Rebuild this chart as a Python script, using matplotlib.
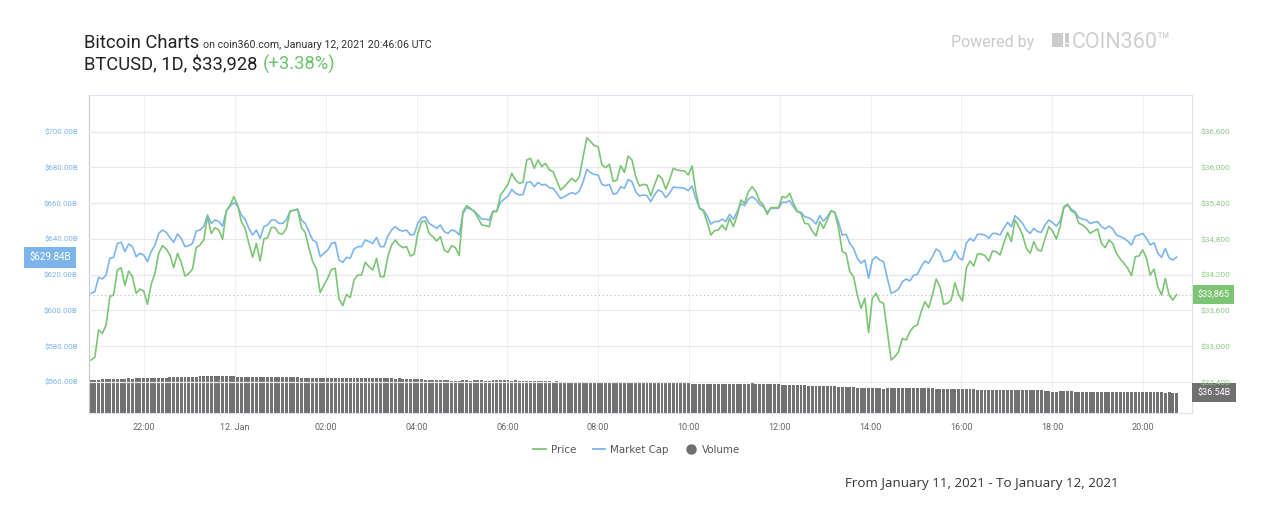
import matplotlib
matplotlib.use("Agg")
import matplotlib.pyplot as plt
import numpy as np
from matplotlib.lines import Line2D
from matplotlib.patches import Rectangle

# hours relative to 12 Jan 2021 00:00 UTC
first_hour = -3.17
last_hour = 20.74

price = [
    32770, 32815, 33273, 33217, 33357, 33833, 33861, 34280, 34319, 34017,
    34263, 34168, 33889, 33961, 33928, 33704, 34040, 34224, 34560, 34688,
    34632, 34532, 34319, 34560, 34409, 34179, 34219, 34297, 34655, 34700,
    34783, 35175, 34895, 34990, 34951, 34795, 35270, 35371, 35511, 35371,
    35091, 34979, 34727, 34493, 34727, 34431, 34800, 34823, 34996, 34990,
    34895, 34884, 34979, 35270, 35281, 35298, 34990, 34912, 34644, 34420,
    34297, 33900, 34028, 34140, 34291, 34308, 33793, 33682, 33872, 33816,
    34112, 34196, 34196, 34409, 34336,
    34280, 34476, 34168, 34168, 34504, 34700, 34783, 34700, 34655, 34672,
    34515, 34543, 34895, 35091, 35102, 34895, 34839, 34767, 34839, 34616,
    34576, 34688, 34655, 34521, 35259, 35359, 35315, 35259, 35158, 35035,
    35024, 35007, 35259, 35259, 35538, 35622, 35717, 35902, 35790, 35734,
    35751, 36126, 36154, 35986, 36126, 36014, 36070, 35958, 35930, 35773,
    35622, 35678, 35751, 35818, 35762, 35846, 36182, 36500, 36433, 36366,
    36349, 36042, 35997, 36053, 35762, 35790, 36031, 35919, 36193, 36126,
    35846, 35689, 35717,
    35706, 35527, 35706, 35874, 35818, 35634, 35790, 35986, 35958, 35947,
    35941, 35874, 36025, 35594, 35315, 35270, 35091, 34867, 34940, 34951,
    35035, 34951, 35147, 35007, 35192, 35455, 35399, 35594, 35678, 35594,
    35438, 35371, 35214, 35326, 35326, 35326, 35511, 35494, 35566, 35399,
    35270, 35231, 35063, 35052, 34934, 34851, 35091, 34979, 35119, 35270,
    35248, 34979, 34588, 34560, 34252, 34168, 33861, 33637, 33805, 33229,
    33805, 33889, 33749, 33721, 33245, 32770, 32826, 32910, 33133, 33106,
    33245,
    33329, 33357, 33581, 33749, 33648, 33861, 34129, 34000, 33704, 33721,
    33777, 34068, 33861, 33760, 34308, 34431, 34347, 34549, 34549, 34521,
    34431, 34599, 34588, 34532, 34727, 34912, 34755, 35119, 35007, 34867,
    34644, 34560, 34755, 34616, 34599, 34811, 35007, 34934, 34800, 35007,
    35343, 35382, 35270, 35231, 35063, 35035, 34979, 34895, 34934, 34968,
    34727, 34655, 34783, 34727, 34560, 34465, 34392, 34308, 34185, 34504,
    34515, 34616, 34476, 34196, 34297, 34000, 33861, 34140, 33861, 33777,
    33865,
]

market_cap = [
    609.6, 610.5, 618.5, 617.6, 619.8, 629.2, 629.7, 637.5, 638.1, 632.9,
    637.2, 635.7, 630.1, 632.0, 631.0, 627.3, 632.9, 636.6, 643.1, 645.0,
    643.7, 640.7, 638.1, 642.8, 640.3, 635.7, 636.2, 637.5, 644.4, 645.0,
    646.9, 653.4, 648.7, 650.6, 649.7, 647.2, 655.6, 658.4, 660.3, 658.4,
    653.4, 651.0, 645.9, 642.2, 645.0, 640.3, 646.9, 647.8, 650.6, 650.6,
    648.7, 648.7, 650.6, 655.6, 656.0, 656.7, 650.6, 648.7, 644.1, 639.4,
    638.1, 630.1, 632.0, 633.8, 637.5, 638.1, 628.2, 626.9, 629.7, 629.2,
    634.4, 635.7, 635.7, 639.4, 638.5,
    637.5, 640.9, 635.7, 635.7, 641.6, 645.0, 646.9, 645.0, 644.4, 645.0,
    642.2, 642.6, 648.7, 651.9, 652.4, 648.7, 647.4, 645.9, 647.8, 644.1,
    643.1, 645.0, 644.4, 642.2, 654.3, 657.5, 656.7, 655.6, 653.4, 651.1,
    651.1, 650.6, 655.6, 655.6, 660.5, 662.3, 664.0, 667.7, 665.5, 664.6,
    664.9, 671.6, 672.0, 669.2, 671.6, 670.2, 670.5, 668.7, 668.3, 665.5,
    662.7, 663.6, 664.9, 665.9, 665.1, 666.8, 672.0, 678.9, 677.0, 676.1,
    675.7, 670.5, 669.8, 670.5, 665.1, 665.5, 669.2, 668.3, 673.3, 672.0,
    666.4, 664.0, 664.6,
    664.2, 660.8, 664.6, 667.4, 666.4, 663.1, 665.5, 669.0, 668.7, 668.7,
    668.3, 667.0, 669.6, 662.7, 657.1, 656.2, 653.0, 648.3, 649.7, 649.7,
    651.0, 649.7, 653.8, 651.0, 655.2, 659.9, 658.6, 662.3, 663.6, 662.1,
    659.3, 658.0, 654.9, 657.1, 657.1, 657.1, 660.5, 660.5, 661.4, 658.0,
    655.2, 654.9, 652.4, 651.9, 650.6, 648.3, 653.0, 650.0, 652.4, 655.8,
    654.9, 649.3, 642.2, 642.6, 637.5, 634.7, 629.2, 626.4, 628.2, 618.0,
    628.2, 630.1, 628.2, 627.3, 618.0, 609.6, 610.5, 612.0, 616.1, 617.6,
    616.5,
    619.8, 620.2, 624.5, 627.7, 626.4, 630.1, 634.4, 632.9, 627.3, 627.7,
    628.6, 633.4, 629.5, 628.2, 637.5, 640.3, 638.8, 642.6, 642.6, 642.2,
    640.3, 643.1, 643.1, 642.2, 645.9, 649.3, 646.9, 653.0, 651.0, 648.7,
    645.0, 643.1, 645.9, 644.1, 643.7, 647.8, 650.6, 649.1, 647.2, 650.0,
    657.5, 659.0, 656.6, 655.2, 651.9, 651.1, 650.6, 648.7, 649.3, 649.7,
    646.9, 645.6, 647.2, 645.6, 642.2, 641.3, 640.3, 638.8, 636.6, 641.6,
    642.2, 643.1, 640.3, 636.6, 637.9, 632.0, 629.7, 634.7, 629.5, 628.2,
    629.84,
]

# 24h volume, billions USD
volume = [
    58.5, 58.9, 59.5, 60.0,
    60.6, 61.2, 61.0, 61.4, 61.2, 61.0, 61.6, 61.4, 61.6,
    62.2, 62.5, 62.4, 62.8, 62.6, 63.0, 63.2, 63.0, 63.4, 63.6, 63.4, 63.8, 64.0, 64.0, 64.4, 64.6,
    65.2, 65.6, 65.4, 65.8, 65.6, 66.0,
    66.6, 66.8, 66.6, 66.4,
    64.6, 64.4, 64.6, 64.4, 64.5, 64.3, 64.6, 64.4, 64.2, 64.4, 64.6, 64.8, 64.6, 64.4, 64.2, 64.0, 63.8,
    63.2, 63.0, 63.2, 63.0, 62.8, 63.0, 62.8, 63.0, 63.2, 63.0, 62.8, 62.6,
    62.8, 63.0, 62.8, 62.6, 62.8, 62.6, 62.4, 62.6, 62.4, 62.2, 62.4, 62.2,
    61.6, 61.4, 61.6, 61.2, 61.0, 61.2, 60.8, 60.6, 60.4,
    59.6, 59.4, 59.2, 59.0, 58.8, 58.6,
    58.0, 57.8, 57.6, 57.8, 58.2, 58.0, 57.8, 58.2, 58.4, 58.2, 57.6, 57.8, 58.0,
    58.2, 58.0, 58.2, 58.0, 57.8, 58.0, 57.8, 57.6, 57.8, 57.6, 57.4, 57.6, 57.4,
    56.4, 56.2, 56.0, 56.2, 56.0, 55.8, 56.0, 55.8, 55.6, 55.8, 55.6, 55.4, 55.2, 55.0, 54.8,
    54.6, 54.4, 54.6, 54.4, 54.2, 54.4, 54.2, 54.0, 54.2, 54.0, 54.2, 54.0,
    53.8, 54.0, 53.8, 53.8, 53.6, 53.8, 53.6, 53.6, 53.4, 53.6, 53.4, 53.4,
    51.6, 51.4, 51.6, 51.4, 51.4, 51.6, 51.4, 51.4, 51.2, 51.4, 51.2, 51.4, 51.2, 51.2, 51.0, 51.2,
    52.6, 52.4, 52.2, 52.2, 52.0, 51.8, 51.6, 51.2, 50.8, 50.4, 50.0,
    49.6, 49.4, 49.2, 49.4, 49.0, 48.8, 48.6, 48.4, 48.2, 48.0,
    47.6, 47.4, 47.2, 47.0, 46.6, 46.2, 45.8, 45.4, 44.8, 44.4, 44.0, 43.8, 43.8,
    43.8, 43.6, 43.8, 44.2, 44.6, 44.8, 44.6, 44.8, 44.6, 44.4, 44.6, 44.4, 44.2,
    44.0, 43.8, 43.6, 43.4, 43.2, 43.0, 42.8, 42.6, 42.4, 42.4, 42.2, 42.0, 42.0,
    41.8, 41.6, 41.8, 41.6, 41.4, 41.6, 41.4, 41.2, 41.4, 41.2,
    41.0, 41.2, 41.0, 40.8, 40.8, 40.6, 40.4, 40.2, 39.6, 38.8,
    38.0, 38.2, 39.4, 39.6, 39.2, 38.4, 38.0, 38.0, 37.8, 37.8, 38.0, 37.8, 37.6, 37.6, 37.4, 37.2,
    37.2, 37.0, 37.0, 37.2, 37.0, 36.8, 37.0, 36.8, 36.8, 36.6, 36.8, 36.6, 36.6,
    36.6, 36.5, 36.6, 36.5, 36.54,
]

tick_hours = [-2, 0, 2, 4, 6, 8, 10, 12, 14, 16, 18, 20]
tick_labels = ["22:00", "12. Jan", "02:00", "04:00", "06:00", "08:00",
               "10:00", "12:00", "14:00", "16:00", "18:00", "20:00"]
mcap_ticks = [560, 580, 600, 620, 640, 660, 680, 700]
price_ticks = [32400, 33000, 33600, 34200, 34800, 35400, 36000, 36600]

GREEN = "#7cc575"
BLUE = "#7cb5ec"
GRID = "#e6e9ef"

hours = np.linspace(first_hour, last_hour, len(price))
step = hours[1] - hours[0]

W, H = 1282, 514
fig = plt.figure(figsize=(W / 100, H / 100), dpi=100)
rect = [89 / W, 1 - 413 / H, 1103 / W, 318 / H]

ax_v = fig.add_axes(rect)
ax_m = fig.add_axes(rect, sharex=ax_v)
ax_p = fig.add_axes(rect, sharex=ax_v)
for a in (ax_m, ax_p):
    a.patch.set_visible(False)

# volume columns
ax_v.bar(hours, volume, width=step * 0.78, color="#717171", linewidth=0, zorder=2)
ax_v.set_ylim(0, 567)
ax_v.set_yticks([])
ax_v.set_xlim(-3.216, 21.08)
ax_v.set_xticks(tick_hours)
ax_v.set_xticklabels(tick_labels, fontsize=6.5, color="#666666", family="Roboto")
ax_v.tick_params(axis="x", length=0, pad=7)
ax_v.grid(axis="x", color="#eef0f4", lw=0.8, zorder=0)
ax_v.set_axisbelow(True)

# market cap (left axis)
ax_m.plot(hours, market_cap, color=BLUE, lw=1.2, zorder=3)
ax_m.set_ylim(542.66, 720.5)
ax_m.set_yticks(mcap_ticks)
ax_m.set_yticklabels([f"${v:.2f}B" for v in mcap_ticks], fontsize=5.7,
                     color=BLUE, family="Roboto")
ax_m.tick_params(axis="y", length=0, pad=8)
ax_m.tick_params(axis="x", bottom=False, labelbottom=False)
ax_m.grid(axis="y", color=GRID, lw=0.9)

# price (right axis)
ax_p.plot(hours, price, color=GREEN, lw=1.2, zorder=4)
ax_p.axhline(price[-1], color="#b8b8b8", lw=0.8, ls=(0, (1, 2.5)), zorder=1)
ax_p.set_ylim(31881, 37216)
ax_p.yaxis.tick_right()
ax_p.set_yticks(price_ticks)
ax_p.set_yticklabels([f"${v:,}" for v in price_ticks], fontsize=6,
                     color="#8ccc84", family="Roboto")
ax_p.tick_params(axis="y", length=0, pad=6)
ax_p.tick_params(axis="x", bottom=False, labelbottom=False)

for a in (ax_v, ax_m, ax_p):
    for s in a.spines.values():
        s.set_visible(False)
ax_v.spines["left"].set_visible(True)
ax_v.spines["left"].set_color("#c4c8cf")
for k in ("top", "right", "bottom"):
    ax_v.spines[k].set_visible(True)
    ax_v.spines[k].set_color("#dde3ee")

# current value flags
def flag(ax, x, y, text, color, size=6.5):
    ax.annotate(text, xy=(x, y), xycoords=("axes fraction", "data"),
                ha="center", va="center", fontsize=size, color="white",
                family="Roboto", annotation_clip=False,
                bbox=dict(boxstyle="square,pad=0.55", fc=color, ec="none"))

flag(ax_m, -0.0355, market_cap[-1], f"${market_cap[-1]:.2f}B", BLUE, 7)
flag(ax_p, 1.0195, price[-1], f"${price[-1]:,}", GREEN)
flag(ax_v, 1.0200, volume[-1], f"${volume[-1]:.2f}B", "#707070")

# header
def place_after(prev, gap_px, text, **kw):
    fig.canvas.draw()
    bb = prev.get_window_extent()
    x = (bb.x1 + gap_px) / W
    return fig.text(x, prev.get_position()[1], text, va="baseline", **kw)

t1 = fig.text(84 / W, 1 - 48.5 / H, "Bitcoin Charts", fontsize=13.2,
              family="Roboto", color="#222222", va="baseline")
place_after(t1, 4, "on coin360.com, January 12, 2021 20:46:06 UTC",
            fontsize=7.7, family="Roboto", color="#333333")
t2 = fig.text(84 / W, 1 - 70 / H, "BTCUSD, 1D, $33,928", fontsize=13.2,
              family="Roboto", color="#222222", va="baseline")
place_after(t2, 5, "(+3.38%)", fontsize=13.2, family="Roboto", color="#6cc46a")

fig.text(951 / W, 1 - 47 / H, "Powered by", fontsize=11.5, family="Roboto",
         color="#c9c9c9", va="baseline")
fig.patches.append(Rectangle((1052 / W, 1 - 47 / H), 11 / W, 14 / H,
                             transform=fig.transFigure, fc="#cccccc", ec="none"))
fig.patches.append(Rectangle((1065 / W, 1 - 43 / H), 4 / W, 10 / H,
                             transform=fig.transFigure, fc="#cccccc", ec="none"))
fig.patches.append(Rectangle((1065 / W, 1 - 47 / H), 4 / W, 3 / H,
                             transform=fig.transFigure, fc="#cccccc", ec="none"))
fig.text(1072 / W, 1 - 48 / H, "COIN360\u2122", fontsize=15.5, family="Roboto",
         color="#cfcfcf", va="baseline")

# legend
handles = [Line2D([], [], color=GREEN, lw=1.3),
           Line2D([], [], color=BLUE, lw=1.3),
           Line2D([], [], color="#6f6f6f", marker="o", ms=6.5, ls="none")]
fig.legend(handles, ["Price", "Market Cap", "Volume"], loc="center",
           bbox_to_anchor=(637 / W, 1 - 450 / H), ncol=3, frameon=False,
           handlelength=1.2, handletextpad=0.5, columnspacing=1.6,
           prop=dict(family="DejaVu Sans", size=7.4), labelcolor="#555555")

fig.text(845 / W, 1 - 487 / H, "From January 11, 2021 - To January 12, 2021",
         fontsize=9.6, family="Open Sans", color="#333333", va="baseline")

fig.savefig("out.png", dpi=100)
